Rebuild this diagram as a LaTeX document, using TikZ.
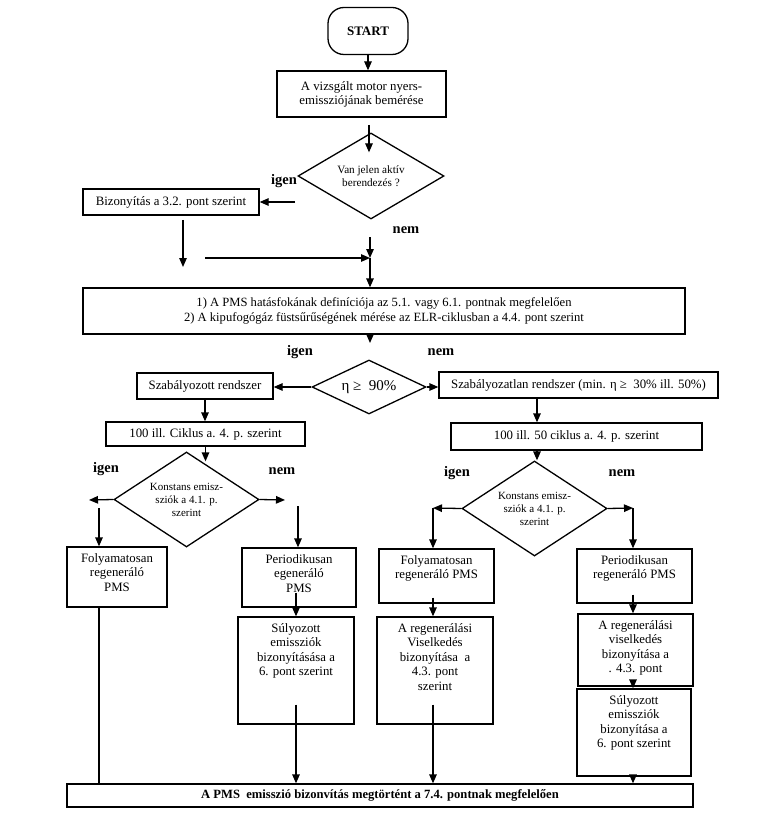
\documentclass[tikz,border=0pt]{standalone}
\usepackage{fontspec}
\setmainfont{Liberation Serif}
\usetikzlibrary{arrows.meta, shapes.geometric, calc}
\newcommand{\boxtext}[3]{\parbox[c][#2][t]{#1}{\centering\vspace*{5pt}\strut#3}}

\begin{document}
\begin{tikzpicture}[x=1pt, y=-1pt, line width=1.3pt,
  every node/.style={font=\fontsize{12.8}{14}\selectfont},
  box/.style={draw, rectangle, inner sep=0pt, align=center},
  tallbox/.style={draw, rectangle, inner sep=0pt, font=\fontsize{12.8}{14.5}\selectfont},
  dec/.style={draw, diamond, inner sep=0pt, align=center},
  yesno/.style={font=\fontsize{14.5}{16}\selectfont\bfseries},
  arr/.style={-{Triangle[length=9pt, width=7.5pt]}}]
  \useasboundingbox (0,0) rectangle (765,826);

  % top part
  \node[draw, rounded corners=16pt, minimum width=80pt, minimum height=47pt, font=\fontsize{13}{14}\selectfont\bfseries] (start) at (368,31) {START};
  \node[box, minimum width=169pt, minimum height=46pt] (meas) at (361.5,94) {A vizsgált motor nyers-\\emissziójának bemérése};
  \node[dec, minimum width=146pt, minimum height=86pt, aspect=1.7, font=\fontsize{11.2}{13.5}\selectfont] (active) at (371,176) {Van jelen aktív\\berendezés ?};
  \node[box, minimum width=176pt, minimum height=26pt] (proof) at (171,202) {Bizonyítás a 3.2. pont szerint};
  \node[yesno] (igen1) at (284,181) {igen};
  \node[yesno] (nem1) at (406,230) {nem};
  \node[box, minimum width=602pt, minimum height=46pt, font=\fontsize{12.6}{15}\selectfont] (defin) at (384,311) {1) A PMS hatásfokának definíciója az 5.1. vagy 6.1. pontnak megfelelően\\2) A kipufogógáz füstsűrűségének mérése az ELR-ciklusban a 4.4. pont szerint};

  \coordinate (a1) at (369,125);
  \coordinate (a2) at (295,202);
  \coordinate (b1) at (183,220);
  \coordinate (b2) at (183,267);
  \coordinate (h1) at (205,258);
  \coordinate (j1) at (370,237);
  \coordinate (j2) at (370,258);
  \coordinate (c1) at (370,343);

  \draw[arr] (start.south) -- (start.south |- meas.north);
  \draw[arr] (a1) -- ($(a1 |- active.north)+(0,20)$);
  \draw[arr] (a2) -- (a2 -| proof.east);
  \draw[arr] (b1) -- (b2);
  \draw[arr] (h1) -- (j2);
  \draw[arr] (j1) -- (j2);
  \draw[arr] (j2) -- (j2 |- defin.north);
  \draw[arr] (c1 |- defin.south) -- (c1);

  % eta decision
  \node[dec, minimum width=114pt, minimum height=54pt, aspect=2, font=\fontsize{15}{16}\selectfont] (eta) at (369,387) {η ≥~ 90\%};
  \node[yesno] (igen2) at (300,352) {igen};
  \node[yesno] (nem2) at (441,352) {nem};
  \node[box, minimum width=136pt, minimum height=26pt] (reg) at (205,386) {Szabályozott rendszer};
  \node[box, minimum width=279pt, minimum height=26pt] (unreg) at (578.5,385) {Szabályozatlan rendszer (min. η ≥~ 30\% ill. 50\%)};
  \node[box, minimum width=199pt, minimum height=24pt] (cyc1) at (205.5,434) {100 ill. Ciklus a. 4. p. szerint};
  \node[box, minimum width=251pt, minimum height=27pt] (cyc2) at (576.5,436.5) {100 ill. 50 ciklus a. 4. p. szerint};
  \coordinate (colB) at (537,0);

  \draw[arr] (eta.west) -- (eta.west -| reg.east);
  \draw[arr] (eta.east) -- (eta.east -| unreg.west);
  \draw[arr] (reg.south) -- (reg.south |- cyc1.north);
  \draw[arr] (colB |- unreg.south) -- (colB |- cyc2.north);

  % left branch
  \node[dec, minimum width=145pt, minimum height=95pt, aspect=1.5, font=\fontsize{11}{13}\selectfont] (constL) at (186.5,499.5) {Konstans emisz-\\sziók a 4.1. p.\\szerint};
  \node[yesno] (igen3) at (106,469) {igen};
  \node[yesno] (nem3) at (282,471) {nem};
  \node[tallbox] (folyL) at (117,577) {\boxtext{100pt}{60pt}{Folyamatosan\\regeneráló\\PMS}};
  \node[tallbox] (perL) at (299,577.5) {\boxtext{114pt}{59pt}{Periodikusan\\egeneráló\\PMS}};
  \node[tallbox] (sulyL) at (296,670.5) {\boxtext{116pt}{107pt}{Súlyozott\\emissziók\\bizonyításása a\\6. pont szerint}};
  \node[box, minimum width=626pt, minimum height=23pt, font=\fontsize{12.6}{14}\selectfont\bfseries] (done) at (380,795.5) {A PMS~ emisszió bizonvítás megtörtént a 7.4. pontnak megfelelően};

  \coordinate (e1) at (89,500);
  \coordinate (e2) at (99,508);
  \coordinate (e3) at (285,500);
  \coordinate (e4) at (298,506);

  \draw[arr] (cyc1.south) -- ($(cyc1.south |- constL.north)+(0,10)$);
  \draw[arr] (constL.west) -- (e1);
  \draw[arr] (e2) -- (e2 |- folyL.north);
  \draw[arr] (constL.east) -- (e3);
  \draw[arr] (e4) -- (e4 |- perL.north);
  \draw (folyL.south -| e2) -- (e2 |- done.north);
  \draw[arr] ($(sulyL.north |- perL.south)+(0,-15)$) -- (sulyL.north);
  \draw[arr] ($(sulyL.south)+(0,-20)$) -- (sulyL.south |- done.north);

  % right branch
  \node[dec, minimum width=145pt, minimum height=95pt, aspect=1.5, font=\fontsize{11}{13}\selectfont] (constR) at (534.5,508.5) {Konstans emisz-\\sziók a 4.1. p.\\szerint};
  \node[yesno] (igen4) at (457,473) {igen};
  \node[yesno] (nem4) at (622,473) {nem};
  \node[tallbox] (folyR) at (436.5,576) {\boxtext{115pt}{54pt}{Folyamatosan\\regeneráló PMS}};
  \node[tallbox] (regL) at (435,670.5) {\boxtext{116pt}{107pt}{A regenerálási\\Viselkedés\\bizonyítása~ a\\4.3. pont\\szerint}};
  \node[tallbox] (perR) at (634.5,576) {\boxtext{115pt}{54pt}{Periodikusan\\regeneráló PMS}};
  \node[tallbox] (regR) at (635.5,650) {\boxtext{115pt}{72pt}{A regenerálási\\viselkedés\\bizonyítása a\\. 4.3. pont}};
  \node[tallbox] (sulyR) at (634,732.5) {\boxtext{114pt}{87pt}{Súlyozott\\emissziók\\bizonyítása a\\6. pont szerint}};

  \coordinate (f1) at (433,508);
  \coordinate (f2) at (633,508);

  \draw[arr] (colB |- cyc2.south) -- (colB |- constR.north);
  \draw[arr] (constR.west) -- (f1);
  \draw[arr] (f1) -- (f1 |- folyR.north);
  \draw[arr] (constR.east) -- (f2);
  \draw[arr] (f2) -- (f2 |- perR.north);
  \draw[arr] ($(f1 |- folyR.south)+(0,-6)$) -- (f1 |- regL.north);
  \draw[arr] ($(f1 |- regL.south)+(0,-20)$) -- (f1 |- done.north);
  \draw[arr] ($(f2 |- perR.south)+(0,-9)$) -- (f2 |- regR.north);
  \draw[arr] (f2 |- regR.south) -- (f2 |- sulyR.north);
  \draw[arr] (f2 |- sulyR.south) -- (f2 |- done.north);
\end{tikzpicture}
\end{document}
